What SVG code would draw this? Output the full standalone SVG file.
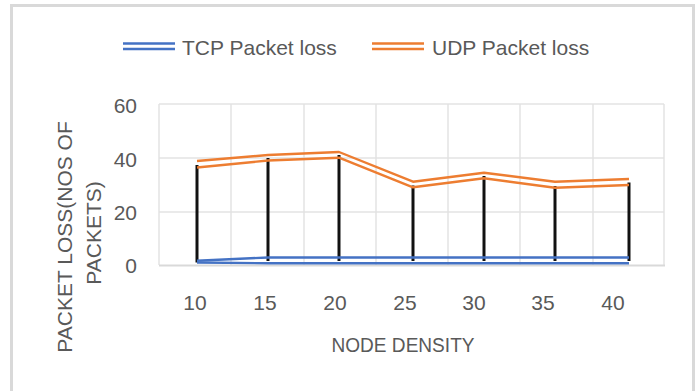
<svg xmlns="http://www.w3.org/2000/svg" width="699" height="391" viewBox="0 0 699 391">
<style>
.t{font-family:"Liberation Sans",Arial,sans-serif;fill:#595959}
.grid{stroke:#e3e3e3;stroke-width:1.5;fill:none}
.o{stroke:#ED7D31;stroke-width:2.4;fill:none;stroke-linejoin:round}
.b{stroke:#4472C4;stroke-width:2.4;fill:none;stroke-linejoin:round}
.k{stroke:#111;stroke-width:3}
</style>
<rect x="0" y="0" width="699" height="391" fill="#fff"/>
<g id="frame">
<path d="M11.5 400 V5.5 H693.5 V400" fill="none" stroke="#d9d9d9" stroke-width="3"/>
</g>
<g id="legend">
<line x1="123" y1="43.5" x2="175" y2="43.5" class="b"/>
<line x1="123" y1="49" x2="175" y2="49" class="b"/>
<text x="182" y="55" class="t" font-size="21">TCP Packet loss</text>
<line x1="372" y1="43.5" x2="424" y2="43.5" class="o"/>
<line x1="372" y1="49" x2="424" y2="49" class="o"/>
<text x="432" y="55" class="t" font-size="21">UDP Packet loss</text>
</g>
<g id="plot-grid">
<path class="grid" d="M159 104 H664 M159 158 H664 M159 212 H664 M159 104 V265 M231 104 V265 M304 104 V265 M376 104 V265 M448 104 V265 M520 104 V265 M593 104 V265 M664 104 V265"/>
<line x1="159" y1="265.5" x2="665" y2="265.5" stroke="#d9d9d9" stroke-width="2"/>
</g>
<g id="y-labels" class="t" font-size="21" text-anchor="end">
<text x="137" y="113">60</text>
<text x="137" y="167">40</text>
<text x="137" y="220">20</text>
<text x="137" y="273">0</text>
</g>
<g id="x-labels" class="t" font-size="21" text-anchor="middle">
<text x="195" y="310">10</text>
<text x="265" y="310">15</text>
<text x="335" y="310">20</text>
<text x="405" y="310">25</text>
<text x="474" y="310">30</text>
<text x="543" y="310">35</text>
<text x="613" y="310">40</text>
</g>
<g id="axis-titles" class="t">
<text x="403" y="352" font-size="20" textLength="143" lengthAdjust="spacingAndGlyphs" text-anchor="middle">NODE DENSITY</text>
<text transform="translate(72,237) rotate(-90)" font-size="21" text-anchor="middle">PACKET LOSS(NOS OF</text>
<text transform="translate(101,233) rotate(-90)" font-size="21" text-anchor="middle">PACKETS)</text>
</g>
<g id="connectors">
<line class="k" x1="197" y1="165" x2="197" y2="262.5"/>
<line class="k" x1="268" y1="158" x2="268" y2="261"/>
<line class="k" x1="339" y1="155" x2="339" y2="261"/>
<line class="k" x1="413" y1="185.5" x2="413" y2="261"/>
<line class="k" x1="484" y1="176" x2="484" y2="261"/>
<line class="k" x1="555" y1="186" x2="555" y2="261"/>
<line class="k" x1="629" y1="182.5" x2="629" y2="261"/>
</g>
<g id="series-udp">
<polyline class="o" points="197,161 268,155 339,152 413,181.7 484,172.7 555,181.7 629,179"/>
<polyline class="o" points="197,167.5 268,160.5 339,157.7 413,187.3 484,178.3 555,187.7 629,185"/>
</g>
<g id="series-tcp">
<polyline class="b" points="197,260.7 268,257.5 339,257.5 413,257.5 484,257.5 555,257.5 629,257.5"/>
<polyline class="b" points="197,262.5 268,263.3 339,263.3 413,263.3 484,263.3 555,263.3 629,263.3"/>
</g>
</svg>
